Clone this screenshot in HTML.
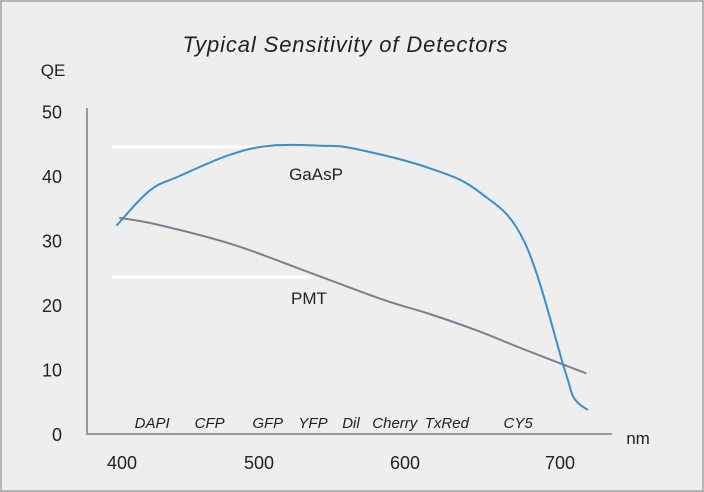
<!DOCTYPE html>
<html><head><meta charset="utf-8"><style>
html,body{margin:0;padding:0;background:#fff}
svg{display:block}
text{font-family:"Liberation Sans",sans-serif}
</style></head><body>
<svg id="c" width="704" height="492" viewBox="0 0 704 492">
<rect x="1" y="1" width="702" height="490" fill="#eeeeee" stroke="#b4b4b4" stroke-width="2"/>
<text x="345" y="52" font-size="22" font-style="italic" fill="#222" text-anchor="middle" textLength="325">Typical Sensitivity of Detectors</text>
<text x="53" y="76" font-size="17" fill="#222" text-anchor="middle">QE</text>
<text x="638" y="444" font-size="17" fill="#222" text-anchor="middle">nm</text>
<line x1="112" y1="147" x2="268" y2="147" stroke="#fff" stroke-width="3"/>
<line x1="112" y1="277" x2="312" y2="277" stroke="#fff" stroke-width="3"/>
<line x1="87" y1="108" x2="87" y2="435" stroke="#9a9a9a" stroke-width="2"/>
<line x1="86" y1="434" x2="612" y2="434" stroke="#9a9a9a" stroke-width="2"/>
<text x="316" y="180" font-size="17" fill="#222" text-anchor="middle">GaAsP</text>
<text x="309" y="304" font-size="17" fill="#222" text-anchor="middle">PMT</text>
<g id="g"></g>
</svg>
<script>
const xTicks=[400,500,600,700];
const yTicks=[0,10,20,30,40,50];
const gaaspNm=[396,420,442,479,508,542,566,616,648,677,703,709,718];
const gaaspQE=[32.3,37.7,40,43.3,44.7,44.7,44.2,41.2,37.5,29.8,10,5.6,3.7];
const pmtNm=[398,425,479,528,584,616,648,677,717];
const pmtQE=[33.5,32.5,29.5,25.6,20.9,18.6,15.9,13.1,9.4];
const dyeNames=["DAPI","CFP","GFP","YFP","Dil","Cherry","TxRed","CY5"];
const dyeNm=[422,464,506,537,563,593,627,673];
const NS="http://www.w3.org/2000/svg";
const bx=[400,500,600,700], bp=[122,259,405,560];
function X(n){let i=0;if(n>bx[2])i=2;else if(n>bx[1])i=1;return bp[i]+(n-bx[i])*(bp[i+1]-bp[i])/(bx[i+1]-bx[i]);}
function Y(v){return 434-6.45*v;}
const g=document.getElementById('g');
function mk(t,a){const e=document.createElementNS(NS,t);for(const k in a)e.setAttribute(k,a[k]);g.appendChild(e);return e;}
xTicks.forEach(v=>{const e=mk('text',{x:X(v),y:469,'font-size':18,fill:'#222','text-anchor':'middle'});e.textContent=v;

});
yTicks.forEach(v=>{const e=mk('text',{x:62,y:Y(v)+7,'font-size':18,fill:'#222','text-anchor':'end'});e.textContent=v;

});
dyeNames.forEach((n,i)=>{const e=mk('text',{x:X(dyeNm[i]),y:428,'font-size':15,'font-style':'italic',fill:'#222','text-anchor':'middle'});e.textContent=n;

});
function line(ns,qs){
  const p=ns.map((n,i)=>[X(n),Y(qs[i])]);
  let d='M'+p[0][0].toFixed(1)+' '+p[0][1].toFixed(1);
  for(let i=0;i<p.length-1;i++){
    const p0=p[Math.max(0,i-1)],p1=p[i],p2=p[i+1],p3=p[Math.min(p.length-1,i+2)];
    const t=0.18;
    const c1=[p1[0]+(p2[0]-p0[0])*t,p1[1]+(p2[1]-p0[1])*t];
    const c2=[p2[0]-(p3[0]-p1[0])*t,p2[1]-(p3[1]-p1[1])*t];
    d+=' C'+c1[0].toFixed(1)+' '+c1[1].toFixed(1)+' '+c2[0].toFixed(1)+' '+c2[1].toFixed(1)+' '+p2[0].toFixed(1)+' '+p2[1].toFixed(1);
  }
  return d;
}
const p1=mk('path',{d:line(pmtNm,pmtQE),fill:'none',stroke:'#7b7f8e','stroke-width':2,'stroke-linejoin':'round'});


const p2=mk('path',{d:line(gaaspNm,gaaspQE),fill:'none',stroke:'#3a8ed0','stroke-width':2,'stroke-linejoin':'round'});


</script>
</body></html>
